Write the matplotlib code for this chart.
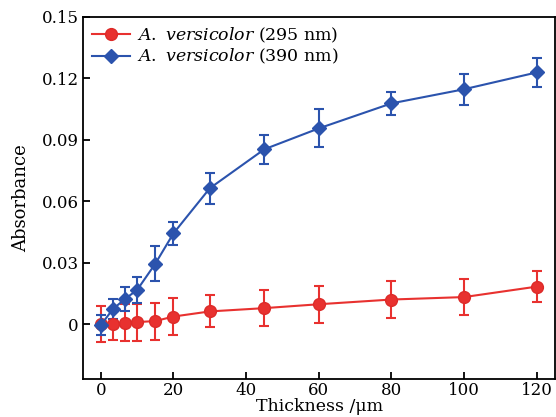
import matplotlib.pyplot as plt
import numpy as np

# thickness (um)
thickness = [0, 3.3, 6.6, 10, 15, 20, 30, 45, 60, 80, 100, 120]

# absorbance at 295 nm and 390 nm
abs_295 = [0.0, 0.0002, 0.0006, 0.0010, 0.0015, 0.0037, 0.0062, 0.0078, 0.0097, 0.0120, 0.0132, 0.0183]
err_295 = [0.0088, 0.0078, 0.0090, 0.0090, 0.0090, 0.0090, 0.0078, 0.0089, 0.0090, 0.0090, 0.0089, 0.0075]
abs_390 = [-0.0005, 0.0073, 0.0122, 0.0167, 0.0295, 0.0443, 0.0663, 0.0853, 0.0955, 0.1077, 0.1146, 0.1228]
err_390 = [0.0050, 0.0050, 0.0060, 0.0064, 0.0085, 0.0055, 0.0075, 0.0070, 0.0093, 0.0057, 0.0075, 0.0069]

labels = [r'$\it{A.\ versicolor}$ (295 nm)', r'$\it{A.\ versicolor}$ (390 nm)']

plt.rcParams['font.family'] = ['DejaVu Serif']
plt.rcParams['mathtext.fontset'] = 'dejavuserif'

red = '#e8312f'
blue = '#2b53ad'

fig, ax = plt.subplots(figsize=(5.56, 4.17), dpi=100)
fig.subplots_adjust(left=0.15, right=0.998, top=0.96, bottom=0.09)

e1 = ax.errorbar(thickness, abs_295, yerr=err_295, color=red, lw=1.5, marker='o',
                 markersize=8.5, markerfacecolor=red, markeredgecolor='#dd2a28',
                 capsize=3.5, capthick=1.5, elinewidth=1.5, zorder=3)

e2 = ax.errorbar(thickness, abs_390, yerr=err_390, color=blue, lw=1.5, marker='D',
                 markersize=7, markerfacecolor=blue, markeredgecolor=blue,
                 capsize=3.5, capthick=1.5, elinewidth=1.5, zorder=3)

ax.set_xlim(-4.8, 125)
ax.set_ylim(-0.027, 0.15)
ax.set_xticks([0, 20, 40, 60, 80, 100, 120])
ax.set_yticks([0, 0.03, 0.06, 0.09, 0.12, 0.15])
ax.set_yticklabels(['0', '0.03', '0.06', '0.09', '0.12', '0.15'])
ax.tick_params(direction='in', length=5, width=1.3, labelsize=12, top=False, right=False)
ax.tick_params(axis='x', pad=2)
for s in ax.spines.values():
    s.set_linewidth(1.3)

ax.set_xlabel('Thickness /μm', fontsize=12.5, labelpad=-1)
ax.set_ylabel('Absorbance', fontsize=13, labelpad=8)

# legend with line + marker only (no error bars)
ax.legend([e1[0], e2[0]], labels, loc='upper left', frameon=False, fontsize=12.5,
          handlelength=2.2, borderaxespad=0.1, handletextpad=0.4, labelspacing=0.15)

plt.savefig('out.png', dpi=100)
